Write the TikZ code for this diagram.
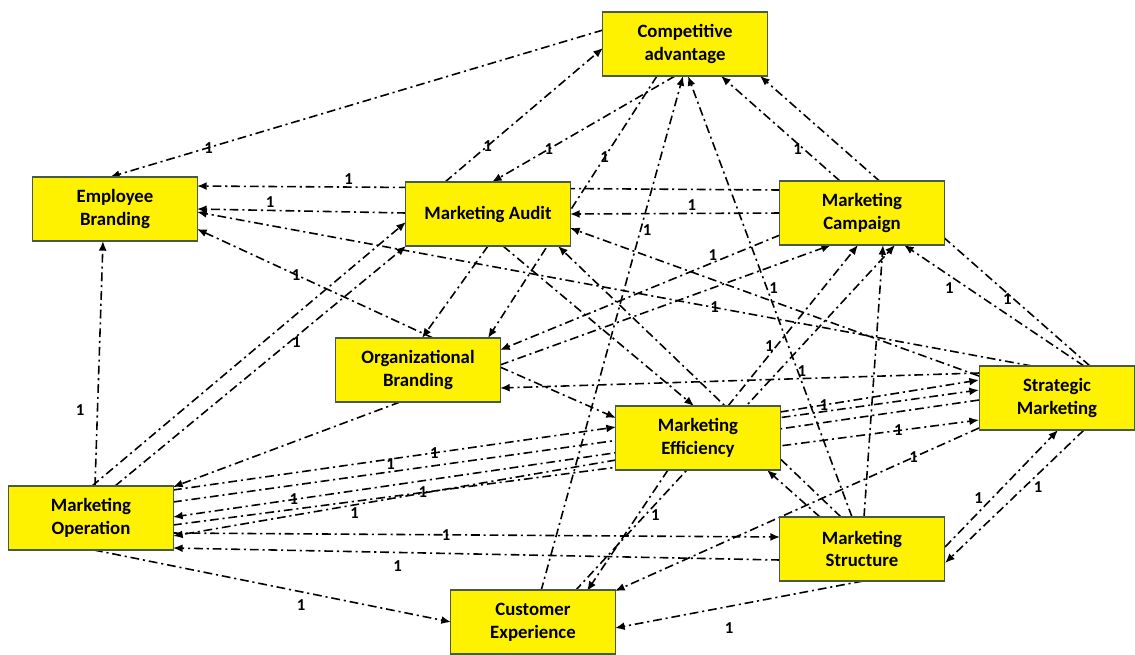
\documentclass[tikz,border=0pt]{standalone}
\usepackage{fontspec}
\setmainfont{Carlito}
\usetikzlibrary{arrows.meta,calc,backgrounds}
\definecolor{boxline}{RGB}{70,90,70}

\begin{document}
\begin{tikzpicture}[x=0.02cm,y=-0.02cm,
  >={Latex[length=5.5pt,width=4.5pt]},
  box/.style={draw=boxline,line width=0.6pt,fill=yellow,minimum width=3.3cm,minimum height=1.28cm,align=center,font=\bfseries\fontsize{10.7}{13}\selectfont},
  link/.style={->,line width=0.9pt,dash pattern=on 5pt off 2.2pt on 1.2pt off 2.2pt},
  lbl/.style={font=\bfseries\fontsize{9.5}{10}\selectfont,inner sep=1pt}]
	\useasboundingbox (0,0) rectangle (1135,654);
	
	\node[box] (ca) at (685,44) {Competitive\\advantage};
	\node[box] (eb) at (115,209) {Employee\\Branding};
	\node[box] (ma) at (488,214) {Marketing Audit};
	\node[box] (mc) at (862,213) {Marketing\\Campaign};
	\node[box] (ob) at (418,370) {Organizational\\Branding};
	\node[box,minimum width=3.12cm] (sm) at (1057,398) {Strategic\\Marketing};
	\node[box] (me) at (698,438) {Marketing\\Efficiency};
	\node[box] (mo) at (91,518) {Marketing\\Operation};
	\node[box] (ms) at (862,549) {Marketing\\Structure};
	\node[box] (ce) at (533,622) {Customer\\Experience};
	
	\begin{scope}[on background layer]
	% into the upper boxes
	\draw[link] ($(ca)+(-82,-14)$) -- node[lbl,pos=0.8]{1} ($(eb)+(-5,-32)$);
	\draw[link] ($(ma)+(-43,-32)$) -- node[lbl,pos=0.27]{1} ($(ca)+(-82,4)$);
	\draw[link] ($(ca)+(-10,32)$) -- node[lbl,pos=0.69]{1} ($(ma)+(4,-32)$);
	\draw[link] ($(ca)+(-28,32)$) -- node[lbl,pos=0.31]{1} ($(ob)+(70,-32)$);
	\draw[link] ($(mc)+(-22,-32)$) -- node[lbl,pos=0.3,left]{1} ($(ca)+(36,32)$);
	\draw[link] ($(sm)+(33,-32)$) -- node[lbl,pos=0.23,left]{1} ($(ca)+(75,32)$);
	\draw[link] ($(mc)+(-82,-23)$) -- node[lbl,pos=0.74,above]{1} ($(eb)+(82,-23)$);
	\draw[link] ($(ma)+(-82,-1)$) -- node[lbl,pos=0.65,above]{1} ($(eb)+(82,0)$);
	\draw[link] ($(mc)+(-82,0)$) -- node[lbl,pos=0.42,above]{1} ($(ma)+(82,0)$);
	\draw[link] ($(ce)+(8,-31)$) -- node[lbl,pos=0.7,right]{1} ($(ca)+(-2,32)$);
	\draw[link] ($(mc)+(-82,22)$) -- node[lbl,pos=0.24,above]{1} ($(ob)+(82,-20)$);
	\draw[link] ($(ob)+(82,-5)$) -- ($(mc)+(-31,32)$);
	\draw[link] ($(ob)+(15,-32)$) -- node[lbl,pos=0.58]{1} ($(eb)+(82,20)$);
	\draw[link] ($(sm)+(-25,-32)$) -- node[lbl,pos=0.38]{1} ($(eb)+(82,3)$);
	\draw[link] ($(sm)+(-78,-22)$) -- ($(ma)+(82,14)$);
	\draw[link] ($(sm)+(27,-32)$) -- node[lbl,pos=0.71,below left]{1} ($(mc)+(42,32)$);
	\draw[link] ($(ms)+(-10,-32)$) -- node[lbl,pos=0.52,right]{1} ($(ca)+(3,32)$);
	\draw[link] ($(me)+(30,-32)$) -- node[lbl,pos=0.37,left]{1} ($(mc)+(-4,32)$);
	\draw[link] ($(ce)+(42,-31)$) -- ($(mc)+(33,32)$);
	\draw[link] ($(ms)+(2,-32)$) -- ($(mc)+(21,32)$);
	\draw[link] ($(mo)+(24,-32)$) -- node[lbl,pos=0.6,right]{1} ($(ma)+(-82,32)$);
	\draw[link] ($(mo)+(1,-32)$) -- ($(ma)+(-82,8)$);
	\draw[link] ($(mo)+(4,-32)$) -- node[lbl,pos=0.31,left=6pt]{1} ($(eb)+(-12,32)$);
	% middle boxes
	\draw[link] ($(ob)+(-18,32)$) -- ($(mo)+(82,-31)$);
	\draw[link] ($(ob)+(82,-3)$) -- ($(me)+(-82,-20)$);
	\draw[link] ($(sm)+(-78,-25)$) -- node[lbl,pos=0.37,above]{1} ($(ob)+(82,18)$);
	\draw[link] ($(ma)+(0,32)$) -- ($(ob)+(4,-32)$);
	\draw[link] ($(ma)+(15,32)$) -- ($(me)+(-4,-32)$);
	\draw[link] ($(ms)+(-21,-32)$) -- ($(ma)+(70,32)$);
	\draw[link] ($(ms)+(-42,-32)$) -- ($(me)+(69,32)$);
	% marketing operation
	\draw[link] ($(mo)+(82,-28)$) -- node[lbl,pos=0.59]{1} ($(me)+(-82,-11)$);
	\draw[link] ($(mo)+(82,-16)$) -- node[lbl,pos=0.27,above]{1} ($(sm)+(-78,-8)$);
	\draw[link] ($(sm)+(-78,2)$) -- node[lbl,pos=0.85]{1} ($(mo)+(82,-1)$);
	\draw[link] ($(mo)+(82,7)$) -- node[lbl,pos=0.31]{1} node[lbl,pos=0.9]{1} ($(sm)+(-78,22)$);
	\draw[link] ($(me)+(-82,22)$) -- node[lbl,pos=0.59,below]{1} ($(mo)+(82,18)$);
	\draw[link] ($(me)+(82,-26)$) -- node[lbl,pos=0.22]{1} ($(sm)+(-78,-18)$);
	\draw[link] ($(mo)+(82,15)$) -- node[lbl,pos=0.45]{1} ($(ms)+(-82,-12)$);
	\draw[link] ($(ms)+(-82,11)$) -- node[lbl,pos=0.63,below=3pt]{1} ($(mo)+(82,30)$);
	\draw[link] ($(mo)+(3,32)$) -- node[lbl,pos=0.58,below=3pt]{1} ($(ce)+(-82,0)$);
	% lower right
	\draw[link] ($(ms)+(1,32)$) -- node[lbl,pos=0.54,below=8pt]{1} ($(ce)+(82,6)$);
	\draw[link] ($(me)+(-30,32)$) -- node[lbl,pos=0.37,right=6pt]{1} ($(ce)+(54,-31)$);
	\draw[link] ($(sm)+(-78,30)$) -- node[lbl,pos=0.18]{1} ($(ce)+(82,-31)$);
	\draw[link] ($(ms)+(83,-2)$) -- node[lbl,pos=0.42,left=4pt]{1} ($(sm)+(1,32)$);
	\draw[link] ($(sm)+(27,32)$) -- node[lbl,pos=0.43,right=4pt]{1} ($(ms)+(83,14)$);
	\end{scope}
\end{tikzpicture}
\end{document}
